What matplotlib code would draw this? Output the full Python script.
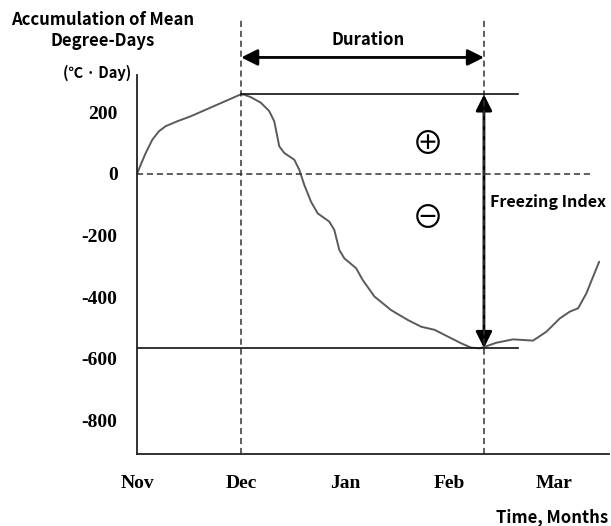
import matplotlib
matplotlib.use("Agg")
import matplotlib.pyplot as plt
from matplotlib.patches import FancyArrowPatch

# Month axis (Nov = 0)
MONTHS = ["Nov", "Dec", "Jan", "Feb", "Mar"]
MONTH_POS = [0, 1, 2, 3, 4]
Y_TICKS = [200, 0, -200, -400, -600, -800]

# Accumulated mean degree-days
CURVE_X = [0.0, 0.036, 0.084, 0.147, 0.212, 0.276, 0.388, 0.516, 0.644, 0.772,
           0.901, 0.981, 1.022, 1.093, 1.189, 1.269, 1.317, 1.343, 1.365, 1.413,
           1.510, 1.558, 1.606, 1.670, 1.734, 1.846, 1.894, 1.942, 1.990, 2.103,
           2.166, 2.279, 2.439, 2.599, 2.728, 2.856, 2.984, 3.113, 3.209, 3.288,
           3.320, 3.449, 3.609, 3.801, 3.930, 4.058, 4.154, 4.234, 4.314, 4.378,
           4.436]
CURVE_Y = [0, 30, 68, 111, 139, 155, 171, 187, 206, 225,
           244, 256, 258, 249, 231, 204, 171, 128, 90, 68,
           46, 13, -36, -90, -128, -155, -182, -247, -274, -306,
           -344, -398, -442, -474, -496, -506, -528, -550, -564, -566,
           -563, -548, -537, -541, -512, -469, -447, -436, -387, -333,
           -285]

PEAK = 258
TROUGH = -565
START = 1.0   # Dec
END = 3.33    # end of freezing period, Feb

LABEL_FONT = "Noto Sans CJK KR"
TICK_FONT = "Liberation Serif"

fig = plt.figure(figsize=(6.11, 5.26), dpi=100)
ax = fig.add_axes([0.2242, 0.1369, 0.7725, 0.7205])
ax.set_xlim(0, 4.53)
ax.set_ylim(-909, 321)

for side in ("top", "right"):
    ax.spines[side].set_visible(False)
for side in ("left", "bottom"):
    ax.spines[side].set_color("#222222")
    ax.spines[side].set_linewidth(1.3)

ax.set_xticks(MONTH_POS)
ax.set_xticklabels(MONTHS, fontfamily=TICK_FONT, fontweight="bold", fontsize=14)
ax.set_yticks(Y_TICKS)
ax.set_yticklabels([str(v) for v in Y_TICKS], fontfamily=TICK_FONT,
                   fontweight="bold", fontsize=14)
ax.tick_params(axis="x", length=0, pad=15)
ax.tick_params(axis="y", length=0, pad=14)

# curve
ax.plot(CURVE_X, CURVE_Y, color="#5a5a5a", lw=1.4, solid_joinstyle="round",
        solid_capstyle="round")

# reference lines
dash = (0, (4, 2.5))
ax.plot([0, 4.35], [0, 0], color="#333333", lw=1.1, linestyle=dash)
ax.plot([START, START], [-909, 500], color="#333333", lw=1.1, linestyle=dash, clip_on=False)
ax.plot([END, END], [-909, 500], color="#333333", lw=1.1, linestyle=dash, clip_on=False)
ax.plot([START, 3.66], [PEAK, PEAK], color="#111111", lw=1.2)
ax.plot([0, 3.66], [TROUGH, TROUGH], color="#111111", lw=1.2)

# Duration arrow
dur = FancyArrowPatch((START, 378), (END, 378), arrowstyle="<|-|>,head_width=0.35,head_length=0.7",
                      color="black", lw=2, mutation_scale=14, shrinkA=0, shrinkB=0,
                      clip_on=False)
ax.add_patch(dur)
ax.text((START + END) / 2 + 0.05, 435, "Duration", ha="center", va="center",
        fontfamily=LABEL_FONT, fontweight="bold", fontsize=12, clip_on=False)

# Freezing index arrow
fi = FancyArrowPatch((END, PEAK), (END, TROUGH), arrowstyle="<|-|>,head_width=0.35,head_length=0.7",
                     color="black", lw=2, mutation_scale=14, shrinkA=0, shrinkB=0)
ax.add_patch(fi)
ax.text(3.385, -90, "Freezing Index", ha="left", va="center",
        fontfamily=LABEL_FONT, fontweight="bold", fontsize=11.6, clip_on=False)

# plus / minus symbols
ax.text(2.79, 94, "\u2295", ha="center", va="center",
        fontfamily=[LABEL_FONT, "DejaVu Sans"], fontsize=23)
ax.text(2.79, -146, "\u2296", ha="center", va="center",
        fontfamily=[LABEL_FONT, "DejaVu Sans"], fontsize=23)

# axis labels
fig.text(0.1686, 0.962, "Accumulation of Mean", ha="center", va="center",
         fontfamily=LABEL_FONT, fontweight="bold", fontsize=12)
fig.text(0.1686, 0.922, "Degree-Days", ha="center", va="center",
         fontfamily=LABEL_FONT, fontweight="bold", fontsize=12)
fig.text(0.159, 0.861, "(\u2103 \u00b7 Day)", ha="center", va="center",
         fontfamily=[LABEL_FONT, "DejaVu Sans"], fontweight="bold", fontsize=10.5)
fig.text(0.995, 0.016, "Time, Months", ha="right", va="center",
         fontfamily=LABEL_FONT, fontweight="bold", fontsize=12)

fig.savefig("out.png", dpi=100, facecolor="white")
